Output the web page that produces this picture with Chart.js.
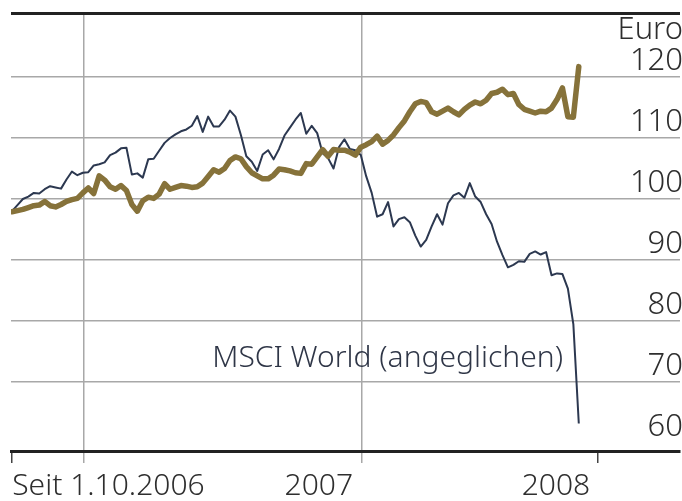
<!DOCTYPE html>
<html>
<head>
<meta charset="utf-8">
<script src="https://cdn.jsdelivr.net/npm/chart.js@4/dist/chart.umd.min.js"></script>
<style>
  html, body { margin: 0; padding: 0; background: #fff; }
  #wrap { width: 682px; height: 501px; }
</style>
</head>
<body>
<div id="wrap"><canvas id="chart" width="682" height="501"></canvas></div>
<script>
  // weekly closes since 1.10.2006 (index = week number)
  const weeks = Array.from({ length: 105 }, (_, i) => i);

  const fundValues = [
    97.9, 98.1, 98.3, 98.6, 98.9, 99.0, 99.6, 98.9, 98.7, 99.1,
    99.6, 99.9, 100.1, 101.0, 101.8, 100.9, 103.8, 103.1, 102.0, 101.6,
    102.2, 101.4, 99.1, 98.0, 99.7, 100.3, 100.1, 100.8, 102.5, 101.6,
    101.9, 102.2, 102.1, 101.9, 102.0, 102.6, 103.7, 104.8, 104.4, 105.0,
    106.3, 106.9, 106.6, 105.3, 104.3, 103.8, 103.3, 103.3, 103.9, 104.9,
    104.8, 104.6, 104.3, 104.2, 105.8, 105.7, 106.9, 108.1, 107.0, 108.1,
    108.0, 108.0, 107.7, 107.2, 108.5, 108.9, 109.4, 110.3, 109.0, 109.6,
    110.5, 111.7, 112.8, 114.3, 115.6, 116.0, 115.8, 114.3, 113.9, 114.4,
    114.9, 114.3, 113.8, 114.7, 115.4, 115.9, 115.6, 116.2, 117.3, 117.5,
    118.0, 117.1, 117.3, 115.5, 114.7, 114.4, 114.1, 114.4, 114.3, 114.9,
    116.3, 118.2, 113.5, 113.4, 121.7
  ];

  const msciValues = [
    98.0, 99.0, 100.0, 100.4, 101.0, 100.9, 101.6, 102.1, 101.9, 101.7,
    103.2, 104.5, 103.9, 104.3, 104.4, 105.5, 105.7, 106.0, 107.2, 107.6,
    108.3, 108.4, 104.0, 104.2, 103.5, 106.5, 106.6, 107.9, 109.2, 110.0,
    110.6, 111.1, 111.4, 112.0, 113.6, 111.0, 113.5, 111.9, 111.9, 113.0,
    114.5, 113.5, 110.5, 107.0, 106.1, 104.6, 107.3, 108.0, 106.5, 108.2,
    110.4, 111.7, 113.0, 114.1, 110.7, 112.0, 110.8, 107.5, 106.7, 105.0,
    108.5, 109.8, 108.2, 108.0, 107.2, 103.7, 101.0, 97.1, 97.5, 99.5,
    95.5, 96.7, 97.0, 96.2, 94.0, 92.2, 93.3, 95.5, 97.5, 95.8,
    99.3, 100.6, 101.0, 100.2, 102.6, 100.4, 99.5, 97.5, 95.9, 93.0,
    90.8, 88.8, 89.2, 89.8, 89.7, 91.0, 91.4, 90.9, 91.3, 87.5,
    87.8, 87.7, 85.3, 79.5, 63.2
  ];

  const yTicks = [60, 70, 80, 90, 100, 110, 120];
  const unitLabel = 'Euro';
  const unitTick = 125;

  // x axis: grid lines at the year breaks, end ticks, and label anchors (in weeks)
  const xGridWeeks = [13.2, 64.2];
  const xEndTicks = [0, 107.5];
  const xLabelWeeks = [17.7, 56.3, 99.8];
  const xLabels = ['Seit 1.10.2006', '2007', '2008'];

  const seriesLabel = 'MSCI World (angeglichen)';

  const FONT = '"Noto Sans", "Open Sans", sans-serif';
  const TEXT = '#2e2e2e';
  const Y_MAX = 130.49;

  const inlineLabel = {
    id: 'inlineLabel',
    afterDatasetsDraw(chart) {
      const { ctx, scales } = chart;
      ctx.save();
      ctx.font = '300 30px ' + FONT;
      ctx.fillStyle = '#2f3647';
      ctx.textAlign = 'right';
      ctx.textBaseline = 'middle';
      ctx.fillText(seriesLabel, scales.x.getPixelForValue(101.1), scales.y.getPixelForValue(73.8));
      ctx.restore();
    }
  };

  const xTickValues = [...xEndTicks, ...xGridWeeks, ...xLabelWeeks].sort((a, b) => a - b);

  new Chart(document.getElementById('chart'), {
    type: 'line',
    data: {
      labels: weeks,
      datasets: [
        {
          label: 'Fonds',
          data: fundValues.map((v, i) => ({ x: weeks[i], y: v })),
          borderColor: '#86723a',
          borderWidth: 5.5,
          borderJoinStyle: 'round',
          borderCapStyle: 'round',
          pointRadius: 0,
          tension: 0,
        },
        {
          label: seriesLabel,
          data: msciValues.map((v, i) => ({ x: weeks[i], y: v })),
          borderColor: '#2c3850',
          borderWidth: 2,
          borderJoinStyle: 'round',
          pointRadius: 0,
          tension: 0,
        },
      ],
    },
    options: {
      responsive: false,
      animation: false,
      layout: { padding: { left: 11, right: 0, top: 13, bottom: 0 } },
      plugins: { legend: { display: false }, tooltip: { enabled: false } },
      scales: {
        x: {
          type: 'linear',
          min: -0.18,
          max: 122.57,
          afterBuildTicks: s => { s.ticks = xTickValues.map(v => ({ value: v })); },
          afterFit: s => { s.paddingLeft = 0; s.paddingRight = 0; s.height = 50; },
          grid: {
            color: c => xGridWeeks.includes(c.tick && c.tick.value) ? '#a8a8a8' : 'transparent',
            tickColor: c => {
              const v = c.tick && c.tick.value;
              if (xGridWeeks.includes(v)) return '#a8a8a8';
              if (xEndTicks.includes(v)) return '#444';
              return 'transparent';
            },
            lineWidth: 1.5,
            tickWidth: 1.5,
            tickLength: 12,
          },
          border: { color: '#222', width: 3 },
          ticks: {
            autoSkip: false,
            maxRotation: 0,
            padding: 5,
            color: TEXT,
            font: { family: FONT, size: 30, weight: '300' },
            callback: v => {
              const k = xLabelWeeks.indexOf(v);
              return k >= 0 ? xLabels[k] : '';
            },
          },
        },
        y: {
          position: 'right',
          min: 58.69,
          max: Y_MAX,
          afterBuildTicks: s => {
            s.ticks = [...yTicks, unitTick, Y_MAX].map(v => ({ value: v }));
          },
          afterFit: s => { s.paddingTop = 0; s.paddingBottom = 0; s.width = 2; },
          grid: {
            drawTicks: false,
            color: c => {
              const v = c.tick && c.tick.value;
              if (v === Y_MAX) return '#222';
              if (v === 60 || v === unitTick) return 'transparent';
              return '#a8a8a8';
            },
            lineWidth: c => (c.tick && c.tick.value === Y_MAX) ? 3 : 1.5,
          },
          border: { display: false },
          ticks: {
            mirror: true,
            padding: 3,
            labelOffset: -16,
            color: TEXT,
            font: { family: FONT, size: 31, weight: '300' },
            callback: v => v === unitTick ? unitLabel : (yTicks.includes(v) ? String(v) : ''),
          },
        },
      },
    },
    plugins: [inlineLabel],
  });
</script>
</body>
</html>
